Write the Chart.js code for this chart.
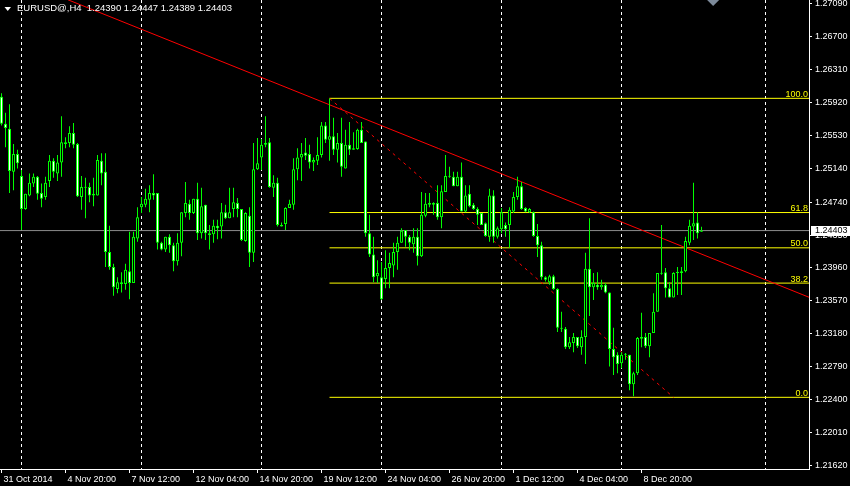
<!DOCTYPE html>
<html><head><meta charset="utf-8">
<script src="https://cdn.jsdelivr.net/npm/chart.js@4.4.1/dist/chart.umd.min.js"></script>
<style>html,body{margin:0;padding:0;background:#000;overflow:hidden}canvas{display:block}</style>
</head><body><canvas id="c" width="850" height="486"></canvas>
<script>
const symbol = "EURUSD@,H4";
const opens = [
1.2599,1.2567,1.2561,1.2510,1.2531,1.2505,1.2466,1.2482,1.2496,1.2504,
1.2485,1.2480,1.2499,1.2523,1.2508,1.2521,1.2545,1.2544,1.2556,1.2543,
1.2480,1.2492,1.2492,1.2482,1.2482,1.2523,1.2510,1.2415,1.2397,1.2371,
1.2379,1.2377,1.2392,1.2378,1.2431,1.2468,1.2471,1.2477,1.2485,1.2485,
1.2426,1.2418,1.2433,1.2423,1.2404,1.2426,1.2461,1.2472,1.2461,1.2478,
1.2437,1.2471,1.2437,1.2436,1.2446,1.2445,1.2462,1.2455,1.2466,1.2473,
1.2466,1.2428,1.2458,1.2414,1.2513,1.2527,1.2542,1.2545,1.2491,1.2497,
1.2447,1.2448,1.2467,1.2471,1.2513,1.2527,1.2533,1.2531,1.2521,1.2523,
1.2530,1.2565,1.2548,1.2552,1.2536,1.2544,1.2514,1.2542,1.2536,1.2537,
1.2560,1.2546,1.2437,1.2412,1.2386,1.2385,1.2383,1.2396,1.2399,1.2415,
1.2426,1.2441,1.2433,1.2424,1.2433,1.2410,1.2458,1.2471,1.2473,1.2473,
1.2456,1.2486,1.2505,1.2504,1.2493,1.2504,1.2463,1.2484,1.2471,1.2466,
1.2461,1.2449,1.2433,1.2482,1.2433,1.2442,1.2447,1.2447,1.2463,1.2480,
1.2493,1.2467,1.2462,1.2462,1.2434,1.2423,1.2385,1.2379,1.2386,1.2371,
1.2325,1.2324,1.2302,1.2307,1.2314,1.2302,1.2314,1.2395,1.2373,1.2376,
1.2373,1.2376,1.2367,1.2300,1.2293,1.2283,1.2293,1.2293,1.2258,1.2271,
1.2312,1.2314,1.2303,1.2319,1.2344,1.2390,1.2391,1.2372,1.2361,1.2390,
1.2390,1.2392,1.2426,1.2445,1.2450,1.24390];
const highs = [
1.2603,1.2580,1.2590,1.2543,1.2536,1.2512,1.2484,1.2508,1.2508,1.2505,
1.2496,1.2504,1.2530,1.2526,1.2530,1.2576,1.2551,1.2564,1.2568,1.2544,
1.2505,1.2503,1.2497,1.2503,1.2530,1.2532,1.2532,1.2446,1.2401,1.2385,
1.2391,1.2401,1.2439,1.2439,1.2468,1.2480,1.2490,1.2494,1.2507,1.2485,
1.2427,1.2433,1.2436,1.2426,1.2437,1.2462,1.2498,1.2477,1.2478,1.2497,
1.2491,1.2471,1.2447,1.2453,1.2453,1.2473,1.2471,1.2491,1.2491,1.2479,
1.2466,1.2462,1.2468,1.2544,1.2550,1.2549,1.2576,1.2550,1.2506,1.2503,
1.2450,1.2468,1.2477,1.2526,1.2538,1.2544,1.2550,1.2542,1.2527,1.2551,
1.2569,1.2569,1.2597,1.2574,1.2556,1.2574,1.2560,1.2569,1.2557,1.2561,
1.2569,1.2546,1.2459,1.2433,1.2405,1.2403,1.2417,1.2414,1.2426,1.2433,
1.2443,1.2441,1.2435,1.2443,1.2443,1.2486,1.2485,1.2485,1.2474,1.2494,
1.2494,1.2530,1.2516,1.2510,1.2510,1.2521,1.2494,1.2494,1.2473,1.2468,
1.2461,1.2450,1.2490,1.2488,1.2445,1.2467,1.2450,1.2468,1.2486,1.2504,
1.2498,1.2468,1.2467,1.2463,1.2448,1.2427,1.2386,1.2388,1.2388,1.2372,
1.2344,1.2326,1.2314,1.2319,1.2314,1.2322,1.2414,1.2455,1.2390,1.2391,
1.2382,1.2378,1.2367,1.2325,1.2296,1.2296,1.2295,1.2293,1.2273,1.2314,
1.2343,1.2319,1.2319,1.2366,1.2390,1.2447,1.2396,1.2379,1.2391,1.2397,
1.2397,1.2433,1.2453,1.2497,1.2462,1.24447];
const lows = [
1.2565,1.2539,1.2485,1.2488,1.2514,1.2441,1.2465,1.2481,1.2492,1.2477,
1.2468,1.2477,1.2492,1.2503,1.2499,1.2504,1.2538,1.2539,1.2538,1.2480,
1.2465,1.2455,1.2474,1.2469,1.2482,1.2494,1.2397,1.2394,1.2363,1.2366,
1.2367,1.2370,1.2359,1.2378,1.2427,1.2461,1.2468,1.2462,1.2477,1.2418,
1.2417,1.2415,1.2414,1.2392,1.2399,1.2410,1.2456,1.2453,1.2460,1.2429,
1.2431,1.2429,1.2418,1.2426,1.2430,1.2431,1.2454,1.2455,1.2456,1.2456,
1.2428,1.2427,1.2397,1.2403,1.2512,1.2512,1.2539,1.2491,1.2480,1.2445,
1.2445,1.2441,1.2467,1.2465,1.2500,1.2499,1.2524,1.2514,1.2511,1.2518,
1.2527,1.2544,1.2523,1.2530,1.2521,1.2504,1.2514,1.2530,1.2536,1.2536,
1.2544,1.2433,1.2409,1.2379,1.2378,1.2358,1.2372,1.2372,1.2385,1.2394,
1.2426,1.2421,1.2417,1.2414,1.2399,1.2409,1.2456,1.2468,1.2459,1.2453,
1.2443,1.2486,1.2503,1.2493,1.2493,1.2463,1.2462,1.2468,1.2465,1.2447,
1.2447,1.2433,1.2427,1.2426,1.2431,1.2437,1.2433,1.2420,1.2461,1.2477,
1.2465,1.2462,1.2461,1.2433,1.2409,1.2382,1.2380,1.2376,1.2370,1.2320,
1.2320,1.2300,1.2300,1.2296,1.2301,1.2293,1.2282,1.2339,1.2358,1.2370,
1.2370,1.2366,1.2279,1.2269,1.2271,1.2277,1.2287,1.2251,1.2244,1.2269,
1.2302,1.2301,1.2290,1.2319,1.2344,1.2388,1.2361,1.2361,1.2361,1.2364,
1.2364,1.2391,1.2423,1.2429,1.2431,1.24389];
const closes = [
1.2567,1.2562,1.2511,1.2531,1.2520,1.2466,1.2484,1.2497,1.2504,1.2484,
1.2478,1.2497,1.2523,1.2510,1.2521,1.2545,1.2543,1.2556,1.2542,1.2481,
1.2492,1.2491,1.2482,1.2484,1.2524,1.2508,1.2415,1.2397,1.2373,1.2379,
1.2377,1.2394,1.2378,1.2433,1.2456,1.2472,1.2478,1.2485,1.2482,1.2426,
1.2418,1.2433,1.2423,1.2404,1.2426,1.2462,1.2473,1.2461,1.2478,1.2437,
1.2469,1.2437,1.2435,1.2446,1.2443,1.2462,1.2455,1.2462,1.2474,1.2466,
1.2429,1.2461,1.2414,1.2513,1.2520,1.2542,1.2544,1.2492,1.2497,1.2447,
1.2445,1.2467,1.2472,1.2513,1.2527,1.2531,1.2529,1.2521,1.2524,1.2530,
1.2565,1.2548,1.2552,1.2536,1.2544,1.2516,1.2542,1.2536,1.2538,1.2560,
1.2544,1.2437,1.2412,1.2385,1.2390,1.2359,1.2396,1.2402,1.2415,1.2426,
1.2440,1.2433,1.2426,1.2433,1.2410,1.2459,1.2472,1.2473,1.2471,1.2456,
1.2487,1.2505,1.2504,1.2493,1.2504,1.2463,1.2482,1.2469,1.2466,1.2459,
1.2447,1.2434,1.2482,1.2433,1.2443,1.2462,1.2442,1.2465,1.2480,1.2493,
1.2466,1.2463,1.2466,1.2434,1.2423,1.2385,1.2382,1.2386,1.2371,1.2325,
1.2324,1.2302,1.2308,1.2314,1.2303,1.2314,1.2395,1.2373,1.2378,1.2373,
1.2376,1.2367,1.2300,1.2290,1.2282,1.2293,1.2294,1.2258,1.2271,1.2313,
1.2314,1.2303,1.2319,1.2344,1.2390,1.2389,1.2372,1.2361,1.2390,1.2391,
1.2392,1.2428,1.2446,1.2449,1.2437,1.24403];

const xTickIndex = [0,16,32,48,64,80,96,112,128,144,160];
const xTickLabels = ["31 Oct 2014","4 Nov 20:00","7 Nov 12:00","12 Nov 04:00","14 Nov 20:00","19 Nov 12:00","24 Nov 04:00","26 Nov 20:00","1 Dec 12:00","4 Dec 04:00","8 Dec 20:00"];
const yTickValues = [1.27090,1.26700,1.26310,1.25920,1.25530,1.25140,1.24740,1.24350,1.23960,1.23570,1.23180,1.22790,1.22400,1.22010,1.21620];
const gridBarIndex = [5,35,65,95,125,155,191];
const fibStart = {bar: 82, price: 1.25971};
const fibEnd = {bar: 168, price: 1.22426};
const fibLevels = [0, 38.2, 50, 61.8, 100];
const trendA = {bar: 16.6, price: 1.27140};
const trendB = {bar: 202, price: 1.23610};
const shiftMarkerBar = 177.9;
const yMin = 1.21576, yMax = 1.27137;
const xMin = -0.375, xMax = 201.875;

const FONT = '"Liberation Sans", Arial, sans-serif';
const LIME = '#00ff00';
const fibPrice = l => fibEnd.price + (fibStart.price - fibEnd.price) * l / 100;

const datasets = [];
datasets.push({
  type: 'bar', order: 1, grouped: false,
  data: opens.map((o, i) => ({x: i, y: [o, closes[i]]})),
  backgroundColor: opens.map((o, i) => closes[i] >= o ? '#000000' : '#ffffff'),
  borderColor: LIME, borderWidth: 1, borderSkipped: false,
  barThickness: 3, minBarLength: 1, inflateAmount: 0
});
datasets.push({
  type: 'bar', order: 2, grouped: false,
  data: lows.map((l, i) => ({x: i, y: [l, highs[i]]})),
  backgroundColor: LIME, borderWidth: 0,
  barThickness: 1, minBarLength: 1, inflateAmount: 0
});
datasets.push({
  type: 'line', order: 3,
  data: [{x: trendA.bar, y: trendA.price}, {x: trendB.bar, y: trendB.price}],
  borderColor: '#ff0000', borderWidth: 1, pointRadius: 0, fill: false, tension: 0
});
datasets.push({
  type: 'line', order: 4,
  data: [{x: fibStart.bar, y: fibStart.price}, {x: fibEnd.bar, y: fibEnd.price}],
  borderColor: '#ff0000', borderWidth: 1, borderDash: [3, 4], pointRadius: 0, fill: false, tension: 0
});
datasets.push({
  type: 'line', order: 5,
  data: [{x: xMin, y: closes[closes.length - 1]}, {x: xMax, y: closes[closes.length - 1]}],
  borderColor: '#8c8c8c', borderWidth: 1, pointRadius: 0, fill: false
});
fibLevels.forEach((l, k) => datasets.push({
  type: 'line', order: 6 + k,
  data: [{x: fibStart.bar, y: fibPrice(l)}, {x: xMax, y: fibPrice(l)}],
  borderColor: '#ffff00', borderWidth: 1, pointRadius: 0, fill: false
}));

const overlay = {
  id: 'overlay',
  afterDraw(chart) {
    const ctx = chart.ctx, xs = chart.scales.x, ys = chart.scales.y, ca = chart.chartArea;
    ctx.save();
    ctx.font = '9px ' + FONT;
    ctx.fillStyle = '#ffff00';
    ctx.textAlign = 'right'; ctx.textBaseline = 'alphabetic';
    fibLevels.forEach(l => {
      const y = ys.getPixelForValue(fibPrice(l));
      ctx.fillText(l.toFixed(1), ca.right - 1, y - 1.5);
    });
    const last = closes.length - 1;
    const by = ys.getPixelForValue(closes[last]);
    ctx.fillStyle = '#ffffff';
    ctx.fillRect(ca.right + 2, Math.round(by) - 5, 41, 10);
    ctx.fillStyle = '#000000';
    ctx.textAlign = 'left'; ctx.textBaseline = 'middle';
    ctx.fillText(closes[last].toFixed(5), ca.right + 6, by);
    ctx.fillStyle = '#ffffff';
    ctx.beginPath(); ctx.moveTo(4.5, 7); ctx.lineTo(11, 7); ctx.lineTo(7.75, 11); ctx.closePath(); ctx.fill();
    ctx.font = '9.5px ' + FONT;
    ctx.textAlign = 'left'; ctx.textBaseline = 'middle';
    ctx.fillText(symbol + '  ' + opens[last].toFixed(5) + ' ' + highs[last].toFixed(5) + ' ' + lows[last].toFixed(5) + ' ' + closes[last].toFixed(5), 17, 8.5);
    const sx = xs.getPixelForValue(shiftMarkerBar);
    ctx.fillStyle = '#7d8a9a';
    ctx.beginPath(); ctx.moveTo(sx - 6, 0); ctx.lineTo(sx + 6, 0); ctx.lineTo(sx, 6); ctx.closePath(); ctx.fill();
    ctx.restore();
  }
};
const bg = {
  id: 'bg',
  beforeDraw(chart) { const c = chart.ctx; c.save(); c.fillStyle = '#000'; c.fillRect(0, 0, chart.width, chart.height); c.restore(); }
};

new Chart(document.getElementById('c'), {
  data: {datasets},
  options: {
    responsive: false, animation: false, devicePixelRatio: 1,
    layout: {padding: 0, autoPadding: false},
    plugins: {legend: {display: false}, tooltip: {enabled: false}},
    scales: {
      x: {
        type: 'linear', position: 'bottom', min: xMin, max: xMax, offset: false,
        afterBuildTicks: s => { s.ticks = xTickIndex.map(v => ({value: v})); },
        afterFit: s => { s.height = 17; s.paddingLeft = 0; s.paddingRight = 0; },
        ticks: {
          autoSkip: false, maxRotation: 0, minRotation: 0, align: 'start', labelOffset: 2, padding: 1,
          color: '#ffffff', font: {size: 9, family: FONT},
          callback: v => { const k = xTickIndex.indexOf(v); return k >= 0 ? xTickLabels[k] : ''; }
        },
        grid: {offset: false, drawOnChartArea: false, drawTicks: true, tickLength: 4, tickColor: '#ffffff'},
        border: {display: true, color: '#ffffff', width: 1}
      },
      xg: {
        type: 'linear', position: 'top', min: xMin, max: xMax, offset: false,
        afterBuildTicks: s => { s.ticks = gridBarIndex.map(v => ({value: v})); },
        afterFit: s => { s.height = 0; s.paddingLeft = 0; s.paddingRight = 0; },
        ticks: {display: false},
        grid: {offset: false, drawOnChartArea: true, drawTicks: false, color: '#ffffff', lineWidth: 1},
        border: {display: false, dash: [3, 3]}
      },
      y: {
        type: 'linear', position: 'right', min: yMin, max: yMax,
        afterBuildTicks: s => { s.ticks = yTickValues.map(v => ({value: v})); },
        afterFit: s => { s.width = 41; s.paddingTop = 0; s.paddingBottom = 0; },
        ticks: {
          autoSkip: false, padding: 3, color: '#ffffff', font: {size: 9, family: FONT},
          callback: v => v.toFixed(5)
        },
        grid: {drawOnChartArea: false, drawTicks: true, tickLength: 3, tickColor: '#ffffff'},
        border: {display: true, color: '#ffffff', width: 1}
      }
    }
  },
  plugins: [bg, overlay]
});
</script>
</body></html>
